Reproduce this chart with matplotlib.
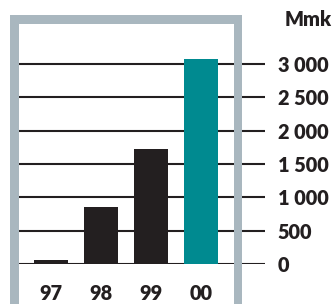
import matplotlib
matplotlib.use("Agg")
import matplotlib.pyplot as plt
from matplotlib.patches import Rectangle
from matplotlib.ticker import FuncFormatter

years = ["97", "98", "99", "00"]
values = [60, 855, 1725, 3075]
bar_colors = ["#231f20", "#231f20", "#231f20", "#008a90"]
yticks = [0, 500, 1000, 1500, 2000, 2500, 3000]
unit = "Mmk"

plt.rcParams['font.family'] = ['Lato', 'DejaVu Sans']
plt.rcParams['font.weight'] = 'heavy'

W, H = 332, 304
fig = plt.figure(figsize=(W / 100, H / 100), dpi=100)

ax = fig.add_axes([19 / W, 40 / H, (265 - 19) / W, 240 / H])
ax.set_xlim(-0.64, 4.28)
ax.set_ylim(0, 3600)
ax.bar(range(len(years)), values, width=0.68, color=bar_colors, zorder=3)

for s in ax.spines.values():
    s.set_visible(False)
ax.set_yticks(yticks)
ax.yaxis.tick_right()
ax.yaxis.set_major_formatter(FuncFormatter(lambda v, p: f"{int(v):,}".replace(",", " ")))
ax.tick_params(axis='y', length=0, pad=9.0, labelsize=14.3, labelcolor='#231f20')
ax.set_xticks(range(len(years)))
ax.set_xticklabels(years)
ax.tick_params(axis='x', length=0, pad=14.5, labelsize=14.3, labelcolor='#231f20')
ax.grid(axis='y', color='#231f20', linewidth=1.5, zorder=1)
ax.grid(axis='x', visible=False)
ax.set_axisbelow(True)

frame_color = "#a9b7bf"
for (x0, y0, w, h) in [(10, 0, 9, 289), (10, 280, 232, 9), (234, 0, 8, 289)]:
    fig.patches.append(Rectangle((x0 / W, y0 / H), w / W, h / H, transform=fig.transFigure,
                                 facecolor=frame_color, edgecolor='none', zorder=5))

fig.text(285 / W, 1 - 20 / H, unit, fontsize=14.3, color='#231f20',
         ha='left', va='center')

fig.savefig("out.png", dpi=100)
